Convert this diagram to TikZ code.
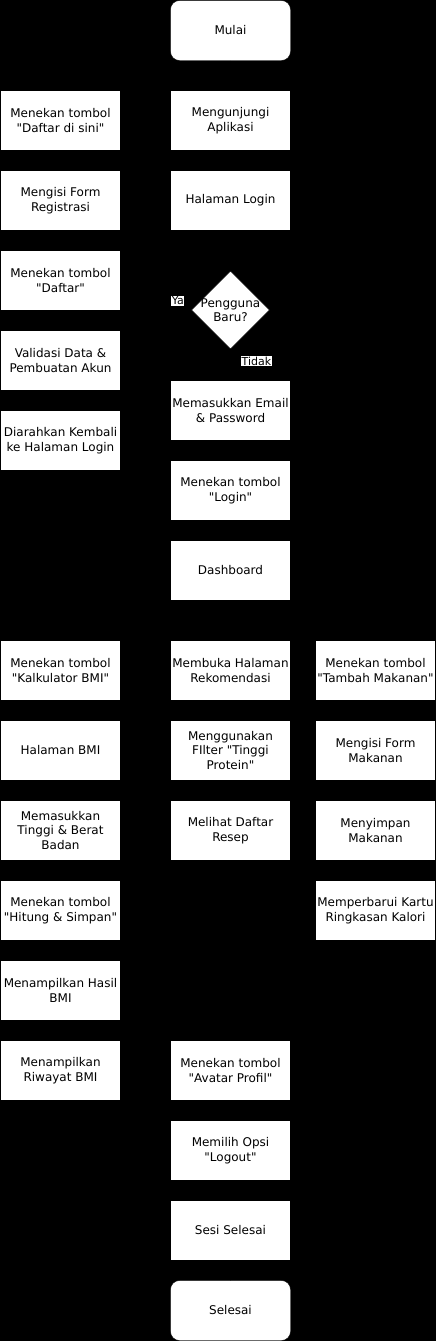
\documentclass[tikz,border=0pt]{standalone}
\usepackage{fontspec}
\setmainfont{DejaVu Sans}[Ligatures=TeXOff]
\usetikzlibrary{shapes.geometric}

\begin{document}
\begin{tikzpicture}
  [x=1pt, y=-1pt,
   box/.style={draw=black, fill=white, minimum width=120pt, minimum height=60pt,
     inner sep=0pt, align=center, font=\fontsize{12}{14.4}\selectfont},
   term/.style={box, rounded corners=9pt},
   decision/.style={diamond, draw=black, fill=white, minimum width=78pt,
     minimum height=78pt, inner sep=0pt, font=\fontsize{12}{14.4}\selectfont},
   elabel/.style={fill=white, inner sep=0.5pt, font=\fontsize{11}{12}\selectfont}]
  \fill[black] (0,0) rectangle (436,1341);

  \node[term] (mulai) at (230.5, 30.5) {Mulai};
  \node[box] (aplikasi) at (230.5, 120.5) {Mengunjungi\\Aplikasi};
  \node[box] (login) at (230.5, 200.5) {Halaman Login};
  \node[decision, label={[align=center, font=\fontsize{12}{14.4}\selectfont]center:{Pengguna\\Baru?}}] (baru) at (230.5, 310) {};
  \node[box] (email) at (230.5, 410.5) {Memasukkan Email\\\& Password};
  \node[box] (tbllogin) at (230.5, 490.5) {Menekan tombol\\"Login"};
  \node[box] (dash) at (230.5, 570.5) {Dashboard};

  \node[box] (daftarsini) at (60.5, 120.5) {Menekan tombol\\"Daftar di sini"};
  \node[box] (formreg) at (60.5, 200.5) {Mengisi Form\\Registrasi};
  \node[box] (tbldaftar) at (60.5, 280.5) {Menekan tombol\\"Daftar"};
  \node[box] (validasi) at (60.5, 360.5) {Validasi Data \&\\Pembuatan Akun};
  \node[box] (kembali) at (60.5, 440.5) {Diarahkan Kembali\\ke Halaman Login};

  \node[box] (kalk) at (60.5, 670.5) {Menekan tombol\\"Kalkulator BMI"};
  \node[box] (halbmi) at (60.5, 750.5) {Halaman BMI};
  \node[box] (tinggi) at (60.5, 830.5) {Memasukkan\\Tinggi \& Berat\\Badan};
  \node[box] (hitung) at (60.5, 910.5) {Menekan tombol\\"Hitung \& Simpan"};
  \node[box] (hasil) at (60.5, 990.5) {Menampilkan Hasil\\BMI};
  \node[box] (riwayat) at (60.5, 1070.5) {Menampilkan\\Riwayat BMI};

  \node[box] (rekom) at (230.5, 670.5) {Membuka Halaman\\Rekomendasi};
  \node[box] (filter) at (230.5, 750.5) {Menggunakan\\FIlter "Tinggi\\Protein"};
  \node[box] (resep) at (230.5, 830.5) {Melihat Daftar\\Resep};

  \node[box] (tambah) at (375.5, 670.5) {Menekan tombol\\"Tambah Makanan"};
  \node[box] (formmakan) at (375.5, 750.5) {Mengisi Form\\Makanan};
  \node[box] (simpan) at (375.5, 830.5) {Menyimpan\\Makanan};
  \node[box] (kartu) at (375.5, 910.5) {Memperbarui Kartu\\Ringkasan Kalori};

  \node[box] (avatar) at (230.5, 1070.5) {Menekan tombol\\"Avatar Profil"};
  \node[box] (logout) at (230.5, 1150.5) {Memilih Opsi\\"Logout"};
  \node[box] (sesi) at (230.5, 1230.5) {Sesi Selesai};
  \node[term] (selesai) at (230.5, 1310.5) {Selesai};

  \foreach \from/\to in {mulai/aplikasi,aplikasi/login,login/baru,email/tbllogin,
    tbllogin/dash,dash/rekom,daftarsini/formreg,formreg/tbldaftar,tbldaftar/validasi,
    validasi/kembali,kalk/halbmi,halbmi/tinggi,tinggi/hitung,hitung/hasil,hasil/riwayat,
    rekom/filter,filter/resep,resep/avatar,tambah/formmakan,formmakan/simpan,
    simpan/kartu,riwayat/avatar,avatar/logout,logout/sesi,sesi/selesai}
  \draw[->] (\from) -- (\to);

  \draw[->] (baru.west) node[elabel, xshift=-13.5pt, yshift=9pt] {Ya}
    -- ++(-45,0) |- (daftarsini.east);
  \draw[->] (baru.south) node[elabel, xshift=26pt, yshift=-12pt] {Tidak}
    -- (email.north);
  \draw[->] (kembali.east) -- ++(30,0) |- (login.west);
  \draw[->] (dash.south) -- ++(0,20) -| (kalk.north);
  \draw[->] (dash.south) -- ++(0,20) -| (tambah.north);
  \draw[->] (kartu.south) |- (avatar.east);

\end{tikzpicture}
\end{document}
